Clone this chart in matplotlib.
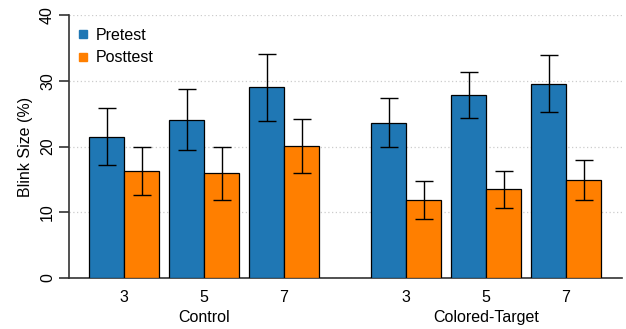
import numpy as np
import matplotlib.pyplot as plt
from matplotlib.lines import Line2D

# data
groups = ['Control', 'Colored-Target']
levels = ['3', '5', '7']
pre_mean = [21.5, 24.1, 29.0, 23.6, 27.8, 29.55]
pre_err = [4.3, 4.6, 5.1, 3.75, 3.5, 4.35]
post_mean = [16.3, 15.9, 20.1, 11.9, 13.5, 14.9]
post_err = [3.7, 4.0, 4.1, 2.9, 2.8, 3.0]

blue = '#1f77b4'
orange = '#ff7f00'
fs = 11.5

plt.rcParams['font.family'] = ['Liberation Sans', 'DejaVu Sans']

fig = plt.figure(figsize=(6.26, 3.29), dpi=100)
ax = fig.add_axes([69 / 626, (329 - 278) / 329, (622 - 69) / 626, (278 - 15) / 329])

# tick positions: 3 per group, gap between groups
x = np.array([0, 1, 2, 3.525, 4.525, 5.525])
w = 0.4375

ax.bar(x - w / 2, pre_mean, w, color=blue, edgecolor='black', linewidth=0.9, zorder=3)
ax.bar(x + w / 2, post_mean, w, color=orange, edgecolor='black', linewidth=0.9, zorder=3)
ax.errorbar(x - w / 2, pre_mean, yerr=pre_err, fmt='none', ecolor='black',
            elinewidth=1, capsize=6.5, capthick=1, zorder=4)
ax.errorbar(x + w / 2, post_mean, yerr=post_err, fmt='none', ecolor='black',
            elinewidth=1, capsize=6.5, capthick=1, zorder=4)

ax.set_xlim(-0.6875, 6.225)
ax.set_ylim(0, 40)
ax.set_yticks([0, 10, 20, 30, 40])
ax.set_yticklabels(['0', '10', '20', '30', '40'], rotation=90, va='center', fontsize=fs)
ax.set_xticks(x)
ax.set_xticklabels(levels * 2, fontsize=fs)
ax.tick_params(axis='x', length=0, pad=9)
ax.tick_params(axis='y', length=7, width=1.2, color='#333333', pad=3)

for g, name in enumerate(groups):
    ax.text(x[g * 3 + 1], -0.12, name, transform=ax.get_xaxis_transform(),
            ha='center', va='top', fontsize=fs)

ax.set_ylabel('Blink Size (%)', fontsize=fs, labelpad=5)

ax.grid(axis='y', linestyle=(0, (1, 2)), color='#cccccc', linewidth=0.9, zorder=0)
ax.set_axisbelow(True)
for s in ['top', 'right']:
    ax.spines[s].set_visible(False)
ax.spines['left'].set_color('#333333')
ax.spines['left'].set_linewidth(1.2)
ax.spines['bottom'].set_color('#333333')
ax.spines['bottom'].set_linewidth(1.2)

handles = [Line2D([], [], marker='s', linestyle='none', color=blue, markersize=6),
           Line2D([], [], marker='s', linestyle='none', color=orange, markersize=6)]
ax.legend(handles, ['Pretest', 'Posttest'], loc='upper left', frameon=False,
          fontsize=fs, handletextpad=0.3, handlelength=1.0, borderaxespad=0.0,
          bbox_to_anchor=(0.0, 0.975), labelspacing=0.45)

fig.savefig('out.png', dpi=100)
